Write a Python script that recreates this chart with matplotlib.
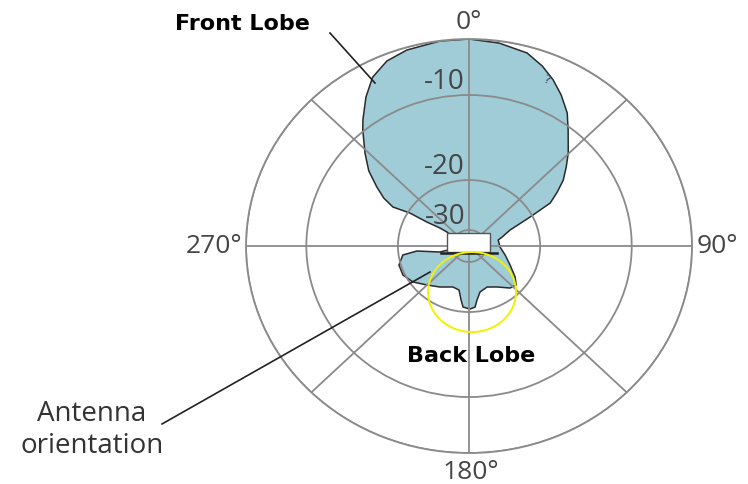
import numpy as np
import matplotlib
matplotlib.use('Agg')
import matplotlib.pyplot as plt
from matplotlib.patches import Rectangle, Ellipse
from matplotlib.lines import Line2D

# radiation pattern: bearing (deg, clockwise from 0°) and level (dB)
angle_deg = [0, 7.8, 15.6, 20.7, 25.2, 29.5, 34.4, 38.4, 44.7, 48.8, 53.0, 56.6,
             60.3, 62.9, 67.2, 73.7, 77.5, 92, 105, 116.5, 125.9, 131.7, 137.8,
             147.6, 157.8, 167.5, 172.2, 174.8, 179.2, 185.2, 187.8, 191.9, 200,
             213.4, 225.1, 235.4, 244.7, 253.7, 261.7, 264.1, 257.5, 270, 304.3,
             303.7, 301.5, 301, 298.9, 301.2, 304.6, 308.9, 313.9, 319.6, 322,
             327.3, 332.1, 337.6, 343.6, 352.5]
level_db = [0, -0.38, -1.18, -2.61, -4.2, -5.96, -8.16, -10.34, -12.36, -13.66,
            -14.88, -16.22, -17.56, -20.46, -24.94, -26.8, -27.66, -27.44, -26.26,
            -24.68, -22.64, -21.48, -21.86, -23.5, -24.34, -23.78, -22.3, -20.94,
            -20.6, -20.94, -22.3, -24.2, -24.48, -23.38, -22.16, -20.54, -19.78,
            -19.79, -20.78, -23.46, -27.66, -37.5, -28.24, -26.72, -24.02, -20.4,
            -18.27, -16.88, -15.53, -13.7, -12.0, -9.79, -8.39, -5.34, -2.84,
            -1.23, -0.48, -0.05]

ring_db = [-30, -20, -10, 0]
ring_labels = ['-30', '-20', '-10']
bearing_ticks = [0, 90, 180, 270]
bearing_labels = ['0°', '90°', '180°', '270°']

# dB rings are not evenly spaced -> piecewise linear radial scale
scale_db = [-40, -30, -20, -10, 0]
scale_pos = [0, 16, 66, 151, 207]


def fwd(v):
    return np.interp(v, scale_db, scale_pos)


def inv(v):
    return np.interp(v, scale_pos, scale_db)


grid_col = '#8a8a8a'
txt_col = '#454545'

fig = plt.figure(figsize=(7.48, 4.84), dpi=100)
ax = fig.add_axes([0.3289, 0.0640, 0.5963, 0.8554], projection='polar')
ax.set_aspect('auto')
ax.set_theta_zero_location('N')
ax.set_theta_direction(-1)
ax.set_rscale('function', functions=(fwd, inv))
ax.set_rlim(-40, 0)

th = np.deg2rad(angle_deg)
ax.fill(th, level_db, facecolor='#a0ccd8', edgecolor='#2a2a2a', lw=1.1, zorder=1)

ax.set_rticks(ring_db)
ax.set_yticklabels([])
ax.set_thetagrids(range(0, 360, 45), labels=[])
ax.grid(True, color=grid_col, lw=1.3)
ax.set_axisbelow(False)
ax.spines['polar'].set_color(grid_col)
ax.spines['polar'].set_linewidth(1.3)

# ring labels, just above each ring on the 0° spoke
for db, lab in zip(ring_db[:3], ring_labels):
    ax.annotate(lab, (0, db), xytext=(-4, 13), textcoords='offset pixels',
                ha='right', va='center', fontsize=20, color=txt_col,
                family='Open Sans', zorder=5)

# bearing labels outside the outer ring
offsets = {0: ((0, 17), 'center', 'center'),
           90: ((5, 0), 'left', 'center'),
           180: ((2, -7), 'center', 'top'),
           270: ((-4, 0), 'right', 'center')}
for b, lab in zip(bearing_ticks, bearing_labels):
    off, ha, va = offsets[b]
    ax.annotate(lab, (np.deg2rad(b), 0), xytext=off, textcoords='offset pixels',
                ha=ha, va=va, fontsize=19, color=txt_col, family='Open Sans',
                annotation_clip=False)

# antenna body at the centre
ax.add_patch(Rectangle((0.4507, 0.4855), 0.0964, 0.0459, transform=ax.transAxes,
                       facecolor='white', edgecolor='#555555', lw=1.0, zorder=6))
ax.add_line(Line2D([0.4372, 0.5628], [0.4835, 0.4835], transform=ax.transAxes,
                   color='#222222', lw=1.8, zorder=7))

# highlight around the back lobe
ax.add_patch(Ellipse((0.5067, 0.3889), 0.1973, 0.1932, transform=ax.transAxes,
                     facecolor='none', edgecolor='#f2f200', lw=1.4, zorder=8))

# callouts
fig.text(0.3235, 0.950, 'Front Lobe', ha='center', va='center', fontsize=16,
         fontweight='bold', color='black', family='DejaVu Sans')
fig.add_artist(Line2D([0.4412, 0.5013], [0.9318, 0.8285], color='#222222', lw=1.2))

fig.text(0.6297, 0.2645, 'Back Lobe', ha='center', va='center', fontsize=16,
         fontweight='bold', color='black', family='DejaVu Sans')

fig.text(0.123, 0.1116, 'Antenna\norientation', ha='center', va='center',
         fontsize=20, color='#333333', family='Open Sans', linespacing=1.2)
fig.add_artist(Line2D([0.2166, 0.5749], [0.1240, 0.4380], color='#222222', lw=1.2))

fig.text(546 / 748, 1 - 80 / 484, '?', ha='center', va='center', fontsize=9,
         color='#3b4560', rotation=-20)

fig.savefig('out.png', dpi=100)
